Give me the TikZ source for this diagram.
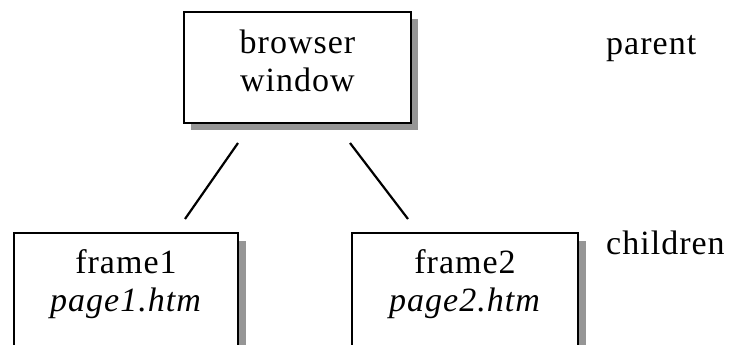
\documentclass[tikz,border=0pt]{standalone}
\usepackage{fontspec}
\setmainfont{Liberation Serif}[LetterSpace=3]
\definecolor{shadowgray}{RGB}{150,150,150}
\tikzset{
  box/.style={draw=black, line width=1.8pt, fill=white, inner sep=0pt},
  shadowbox/.style={fill=shadowgray, draw=none, inner sep=0pt},
  lbl/.style={font=\fontsize{34}{38}\selectfont, inner sep=0pt, align=center},
  link/.style={line width=2.2pt, black},
}
\begin{document}
\begin{tikzpicture}[x=1pt,y=1pt]
\useasboundingbox (0,0) rectangle (729,-345);
\clip (0,0) rectangle (729,-345);
\fill[white] (0,0) rectangle (729,-345);
% shadows
\node[shadowbox, minimum width=227pt, minimum height=111pt] (s0) at (304.5,-74.5) {};
\node[shadowbox, minimum width=224pt, minimum height=130pt] (s1) at (134,-306) {};
\node[shadowbox, minimum width=226pt, minimum height=130pt] (s2) at (473,-306) {};
% boxes
\node[box, minimum width=227pt, minimum height=111pt] (top) at (297.5,-67.5) {};
\node[box, minimum width=224pt, minimum height=130pt] (left) at (126,-298) {};
\node[box, minimum width=226pt, minimum height=130pt] (right) at (465,-298) {};
% texts
\node[lbl] (toptxt) at (297.5,-61) {browser\\window};
\node[lbl] (lefttxt) at (126,-284) {frame1\\\textit{page1.htm}};
\node[lbl] (righttxt) at (465,-284) {frame2\\\textit{page2.htm}};
\node[lbl, anchor=base west] (parent) at (606,-55) {parent};
\node[lbl, anchor=base west] (children) at (606,-254) {children};
% connectors
\coordinate (a1) at (238,-143);
\coordinate (a2) at (185,-219);
\coordinate (b1) at (350,-143);
\coordinate (b2) at (408,-219);
\draw[link] (a1) -- (a2);
\draw[link] (b1) -- (b2);
\end{tikzpicture}
\end{document}
